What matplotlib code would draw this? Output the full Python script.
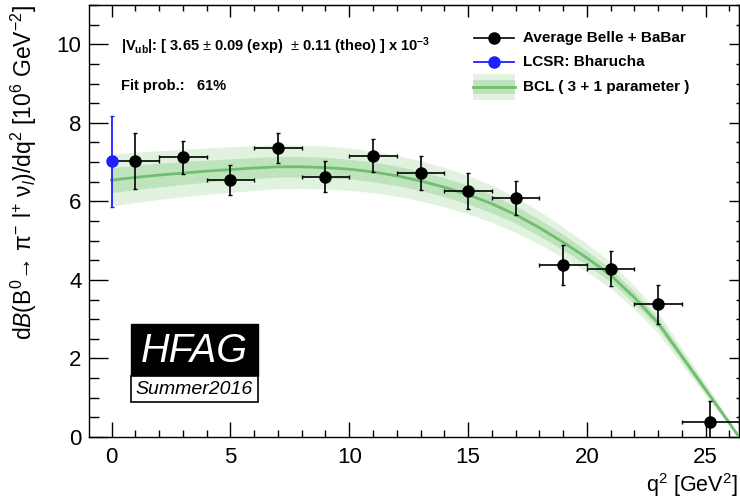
import matplotlib
matplotlib.use('Agg')
import matplotlib.pyplot as plt
from matplotlib.lines import Line2D
from matplotlib.patches import Rectangle
from matplotlib.ticker import MultipleLocator, NullFormatter
import numpy as np

plt.rcParams['font.family'] = ['Liberation Sans', 'DejaVu Sans']
plt.rcParams['mathtext.fontset'] = 'custom'
plt.rcParams['mathtext.rm'] = 'Liberation Sans'
plt.rcParams['mathtext.it'] = 'Liberation Sans:italic'
plt.rcParams['mathtext.bf'] = 'Liberation Sans:bold'
plt.rcParams['mathtext.sf'] = 'Liberation Sans'

# ---- data ----
avg_q2 = [1, 3, 5, 7, 9, 11, 13, 15, 17, 19, 21, 23, 25.2]
avg_q2_lo = [1, 1, 1, 1, 1, 1, 1, 1, 1, 1, 1, 1, 1.2]
avg_q2_hi = [1, 1, 1, 1, 1, 1, 1, 1, 1, 1, 1, 1, 1.2]
avg_val = [7.02, 7.12, 6.54, 7.36, 6.63, 7.16, 6.73, 6.26, 6.09, 4.39, 4.29, 3.38, 0.37]
avg_err = [0.71, 0.42, 0.38, 0.39, 0.40, 0.42, 0.43, 0.45, 0.43, 0.51, 0.44, 0.49, 0.55]

lcsr_q2 = [0.0]
lcsr_val = [7.02]
lcsr_err = [1.16]

fit_q2 = [0, 1, 2, 3, 4, 5, 6, 7, 8, 9, 10, 11, 12, 13, 14, 15, 16, 17, 18, 19,
          20, 21, 22, 23, 24, 25, 26, 26.4]
fit_val = [6.54, 6.61, 6.67, 6.72, 6.77, 6.81, 6.85, 6.88, 6.88, 6.86, 6.82, 6.75,
           6.65, 6.52, 6.36, 6.17, 5.94, 5.66, 5.33, 4.96, 4.56, 4.12, 3.55, 2.90,
           2.05, 1.20, 0.35, 0.0]
fit_in = [0.32, 0.31, 0.30, 0.29, 0.28, 0.27, 0.27, 0.26, 0.26, 0.26, 0.25, 0.25,
          0.25, 0.24, 0.24, 0.24, 0.23, 0.22, 0.21, 0.20, 0.18, 0.17, 0.15, 0.13,
          0.11, 0.08, 0.04, 0.0]
fit_out = [0.66, 0.64, 0.62, 0.60, 0.59, 0.58, 0.57, 0.56, 0.55, 0.55, 0.54, 0.53,
           0.52, 0.51, 0.50, 0.49, 0.47, 0.45, 0.42, 0.39, 0.36, 0.33, 0.30, 0.26,
           0.21, 0.16, 0.08, 0.0]

W, H = 740, 499
fig = plt.figure(figsize=(W / 100, H / 100), dpi=100)

def fx(x):
    return x / W

def fy(y):
    return 1 - y / H

L, R, T, B = 88.5, 739.0, 5.0, 437.0
ax = fig.add_axes([fx(L), fy(B), (R - L) / W, (B - T) / H])

OUTER = '#e1f2df'
INNER = '#bfe3bc'
LINE = '#6fbf6f'

q = np.array(fit_q2)
c = np.array(fit_val)
ai = np.array(fit_in)
ao = np.array(fit_out)
ax.fill_between(q, c - ao, c + ao, color=OUTER, lw=0, zorder=1)
ax.fill_between(q, c - ai, c + ai, color=INNER, lw=0, zorder=2)
ax.plot(q, c, color=LINE, lw=2.0, zorder=3)

ax.errorbar(avg_q2, avg_val, xerr=[avg_q2_lo, avg_q2_hi], yerr=avg_err, fmt='o',
            color='black', ms=8, elinewidth=1.2, capsize=1.6, capthick=1.0, zorder=5)
ax.errorbar(lcsr_q2, lcsr_val, yerr=lcsr_err, fmt='o', color='#1f1fff', ms=8,
            elinewidth=1.3, capsize=1.6, capthick=1.0, zorder=6)

ax.set_xlim(-0.97, 26.4)
ax.set_ylim(0, 11)
ax.xaxis.set_major_locator(MultipleLocator(5))
ax.xaxis.set_minor_locator(MultipleLocator(1))
ax.yaxis.set_major_locator(MultipleLocator(2))
ax.yaxis.set_minor_locator(MultipleLocator(0.5))
ax.tick_params(axis='both', which='both', direction='in', labelsize=16, width=1.0)
ax.tick_params(axis='x', which='major', length=11, pad=7.5)
ax.tick_params(axis='x', which='minor', length=5)
ax.tick_params(axis='y', which='major', length=14, pad=5)
ax.tick_params(axis='y', which='minor', length=7)
for s in ax.spines.values():
    s.set_linewidth(1.0)

# top and right ticks (shorter)
sec_x = ax.secondary_xaxis('top')
sec_x.xaxis.set_major_locator(MultipleLocator(5))
sec_x.xaxis.set_minor_locator(MultipleLocator(1))
sec_x.tick_params(which='both', direction='in', labeltop=False, width=1.0)
sec_x.tick_params(which='major', length=8.5)
sec_x.tick_params(which='minor', length=4.3)
sec_x.xaxis.set_major_formatter(NullFormatter())
sec_y = ax.secondary_yaxis('right')
sec_y.yaxis.set_major_locator(MultipleLocator(2))
sec_y.yaxis.set_minor_locator(MultipleLocator(0.5))
sec_y.tick_params(which='both', direction='in', labelright=False, width=1.0)
sec_y.tick_params(which='major', length=7.2)
sec_y.tick_params(which='minor', length=2.2)
sec_y.yaxis.set_major_formatter(NullFormatter())

fig.text(fx(24), fy(5),
         r'd$\mathit{B}$(B$^{0}$→ π$^{-}$ l$^{+}$ ν$_{l}$)/dq$^{2}$ [10$^{6}$ GeV$^{-2}$]',
         rotation=90, ha='center', va='top', fontsize=16.5)
fig.text(fx(738), fy(499), r'q$^{2}$ [GeV$^{2}$]', ha='right', va='bottom', fontsize=15.5)

# annotations
fig.text(fx(121), fy(46),
         r'|V$_{\mathbf{ub}}$|: [ 3.65 $\pm$ 0.09 (exp)  $\pm$ 0.11 (theo) ] x 10$^{\mathbf{-3}}$',
         ha='left', va='center', fontsize=10.5, fontweight='bold')
fig.text(fx(121), fy(86), 'Fit prob.:   61%', ha='left', va='center', fontsize=10.5,
         fontweight='bold')

# legend
rows = [38, 62, 87]
x0, x1 = 474, 514
fig.add_artist(Line2D([fx(x0), fx(x1)], [fy(rows[0])] * 2, color='black', lw=1.2))
fig.add_artist(Line2D([fx((x0 + x1) / 2)], [fy(rows[0])], color='black', marker='o', ms=8))
fig.add_artist(Line2D([fx(x0), fx(x1)], [fy(rows[1])] * 2, color='#1f1fff', lw=1.3))
fig.add_artist(Line2D([fx((x0 + x1) / 2)], [fy(rows[1])], color='#1f1fff', marker='o', ms=8))
fig.add_artist(Rectangle((fx(x0 - 1), fy(rows[2] + 13)), (x1 - x0 + 2) / W, 26 / H,
                         transform=fig.transFigure, color=OUTER, lw=0))
fig.add_artist(Rectangle((fx(x0 - 1), fy(rows[2] + 7)), (x1 - x0 + 2) / W, 14 / H,
                         transform=fig.transFigure, color=INNER, lw=0))
fig.add_artist(Line2D([fx(x0 - 1), fx(x1 + 1)], [fy(rows[2])] * 2, color=LINE, lw=2.0))
labels = ['Average Belle + BaBar', 'LCSR: Bharucha', 'BCL ( 3 + 1 parameter )']
for r, lab in zip(rows, labels):
    fig.text(fx(523), fy(r), lab, ha='left', va='center', fontsize=11, fontweight='bold')

# HFAG logo
bx0, bx1 = 131, 258
fig.add_artist(Rectangle((fx(bx0), fy(376)), (bx1 - bx0) / W, 52 / H,
                         transform=fig.transFigure, facecolor='black', edgecolor='black', lw=1))
fig.add_artist(Rectangle((fx(bx0), fy(402)), (bx1 - bx0) / W, 26 / H,
                         transform=fig.transFigure, facecolor='white', edgecolor='black', lw=1.2))
fig.text(fx((bx0 + bx1) / 2), fy(351), 'HFAG', color='white', style='italic',
         ha='center', va='center', fontsize=28.5)
fig.text(fx((bx0 + bx1) / 2), fy(389), 'Summer2016', color='black', style='italic',
         ha='center', va='center', fontsize=14)

fig.savefig('out.png', dpi=100)
